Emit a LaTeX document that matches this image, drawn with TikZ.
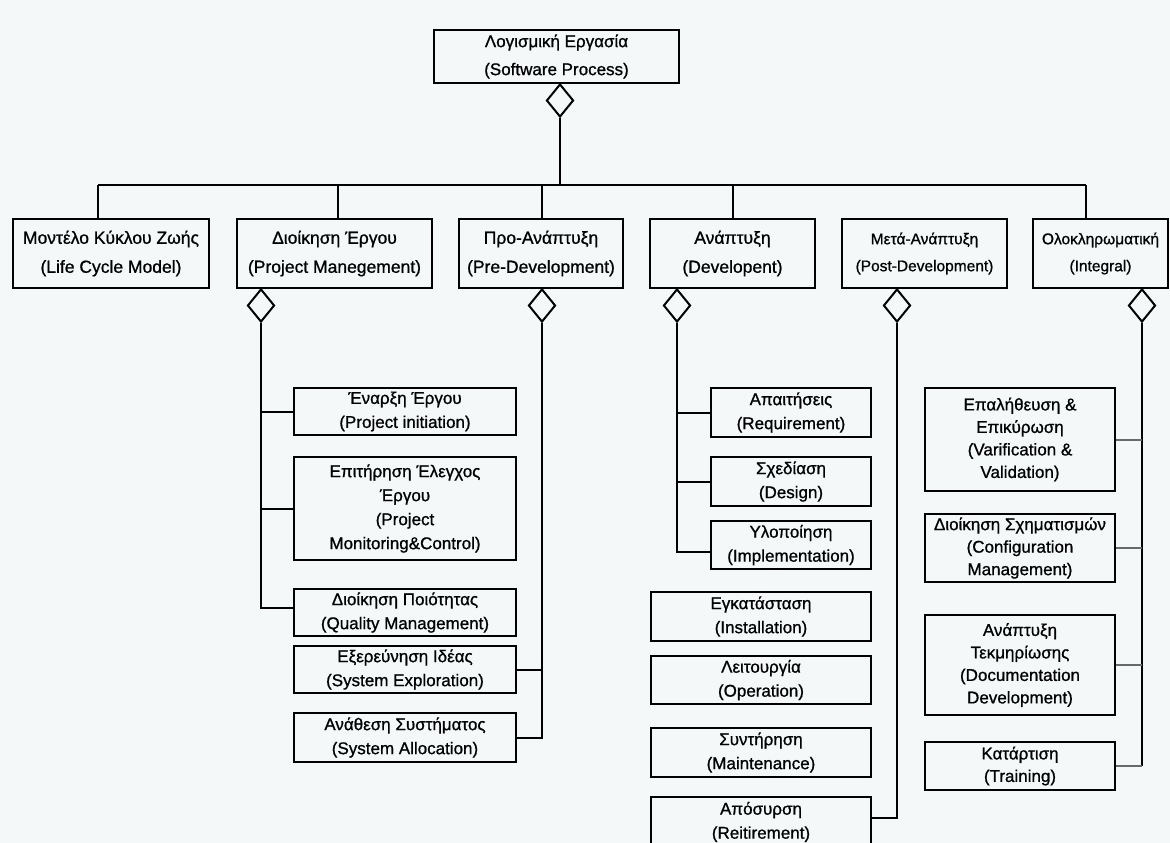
\documentclass[tikz,border=0pt]{standalone}
\usepackage{fontspec}
\setmainfont[FakeBold=0.9]{Liberation Sans}
\usetikzlibrary{shapes.geometric}
\definecolor{paper}{RGB}{245,248,248}
\definecolor{stubgray}{RGB}{105,105,105}
\begin{document}
\begin{tikzpicture}[x=1pt,y=-1pt,
  box/.style={draw, line width=2pt, inner sep=0pt, align=center},
  dia/.style={diamond, draw, line width=2pt, inner sep=0pt,
    minimum width=27pt, minimum height=33pt, anchor=north, fill=paper},
  link/.style={line width=2pt},
  stub/.style={line width=2pt, draw=stubgray},
  topfont/.style={font=\fontsize{17}{28}\selectfont},
  rowfont/.style={font=\fontsize{17.5}{29}\selectfont},
  smallrow/.style={font=\fontsize{15.5}{27}\selectfont},
  kidfont/.style={font=\fontsize{17}{24}\selectfont},
  intfont/.style={font=\fontsize{17}{22.5}\selectfont},
  row/.style={box, rowfont, minimum height=69pt},
  pmkid/.style={box, kidfont, minimum width=222pt},
  devkid/.style={box, kidfont, minimum width=160pt},
  postkid/.style={box, kidfont, minimum width=220pt},
  intkid/.style={box, intfont, minimum width=190pt}
]
\useasboundingbox (0,0) rectangle (1170,843);
\clip (0,0) rectangle (1170,843);
\fill[paper] (0,0) rectangle (1170,843);

% root process
\node[box, topfont, minimum width=245pt, minimum height=53pt] (root) at (556.5,56.5)
  {Λογισμική Εργασία\\(Software Process)};
\node[dia] (rootd) at (560,83) {};

% first level
\node[row, minimum width=196pt] (lcm) at (111,253.5) {Μοντέλο Κύκλου Ζωής\\(Life Cycle Model)};
\node[row, minimum width=195pt] (pm)  at (334.5,253.5) {Διοίκηση Έργου\\(Project Manegement)};
\node[row, minimum width=164pt] (pre) at (541,253.5) {Προ-Ανάπτυξη\\(Pre-Development)};
\node[row, minimum width=165pt] (dev) at (732.5,253.5) {Ανάπτυξη\\(Developent)};
\node[row, smallrow, minimum width=165pt] (post) at (924.5,253.5) {Μετά-Ανάπτυξη\\(Post-Development)};
\node[row, smallrow, minimum width=135pt] (intg) at (1100.5,253.5) {Ολοκληρωματική\\(Integral)};

\node[dia] (pmd)   at (261,288) {};
\node[dia] (pred)  at (542,288) {};
\node[dia] (devd)  at (677,288) {};
\node[dia] (postd) at (897,288) {};
\node[dia] (intgd) at (1142,288) {};

% bus from the root down to the first level
\coordinate (bus)  at (560,185);
\coordinate (busL) at (98,185);
\coordinate (busR) at (1086,185);
\draw[link] (rootd.south) -- (bus);
\draw[link] (busL) -- (busR);
\draw[link] (busL) -- (busL |- lcm.north);
\draw[link] ([xshift=3.5pt]pm.north) |- (bus);
\draw[link] ([xshift=1pt]pre.north) |- (bus);
\draw[link] (dev.north) |- (bus);
\draw[link] (busR) -- (busR |- intg.north);

% project management
\node[pmkid, minimum height=47pt]  (init) at (405,411.5) {Έναρξη Έργου\\(Project initiation)};
\node[pmkid, minimum height=103pt] (moni) at (405,508.5) {Επιτήρηση Έλεγχος\\Έργου\\(Project\\Monitoring\&Control)};
\node[pmkid, minimum height=47pt]  (qual) at (405,612.5) {Διοίκηση Ποιότητας\\(Quality Management)};
\draw[link] (pmd.south) |- ([yshift=5pt]qual.west);
\draw[link] (pmd.south) |- (init.west);
\draw[link] (pmd.south) |- (moni.west);

% pre-development
\node[pmkid, minimum height=47pt] (expl) at (405,669.5) {Εξερεύνηση Ιδέας\\(System Exploration)};
\node[pmkid, minimum height=49pt] (allo) at (405,737.5) {Ανάθεση Συστήματος\\(System Allocation)};
\draw[link] (pred.south) |- (allo.east);
\draw[link] (pred.south) |- (expl.east);

% development
\node[devkid, minimum height=49pt] (req) at (791,412.5) {Απαιτήσεις\\(Requirement)};
\node[devkid, minimum height=49pt] (des) at (791,481.5) {Σχεδίαση\\(Design)};
\node[devkid, minimum height=48pt] (imp) at (791,545)   {Υλοποίηση\\(Implementation)};
\draw[link] (devd.south) |- ([yshift=-7pt]imp.west);
\draw[link] (devd.south) |- (req.west);
\draw[link] (devd.south) |- (des.west);

% post-development
\node[postkid, minimum height=49pt] (inst) at (761,616.5) {Εγκατάσταση\\(Installation)};
\node[postkid, minimum height=48pt] (oper) at (761,680)   {Λειτουργία\\(Operation)};
\node[postkid, minimum height=49pt] (main) at (761,752.5) {Συντήρηση\\(Maintenance)};
\node[postkid, minimum height=50pt] (reti) at (761,822)   {Απόσυρση\\(Reitirement)};
\draw[link] (postd.south) |- ([yshift=4pt]reti.east);

% integral
\node[intkid, minimum height=103pt] (veri) at (1020,439.5) {Επαλήθευση \&\\Επικύρωση\\(Varification \&\\Validation)};
\node[intkid, minimum height=68pt]  (conf) at (1020,548)   {Διοίκηση Σχηματισμών\\(Configuration\\Management)};
\node[intkid, minimum height=100pt] (docu) at (1020,665)   {Ανάπτυξη\\Τεκμηρίωσης\\(Documentation\\Development)};
\node[intkid, minimum height=48pt]  (trai) at (1020,766)   {Κατάρτιση\\(Training)};
\draw[link] (intgd.south) -- (intgd.south |- trai.east);
\draw[stub] (veri.east) -- (veri.east -| intgd.south);
\draw[stub] (conf.east) -- (conf.east -| intgd.south);
\draw[stub] (docu.east) -- (docu.east -| intgd.south);
\draw[stub] (trai.east) -- (trai.east -| intgd.south);
\end{tikzpicture}
\end{document}
